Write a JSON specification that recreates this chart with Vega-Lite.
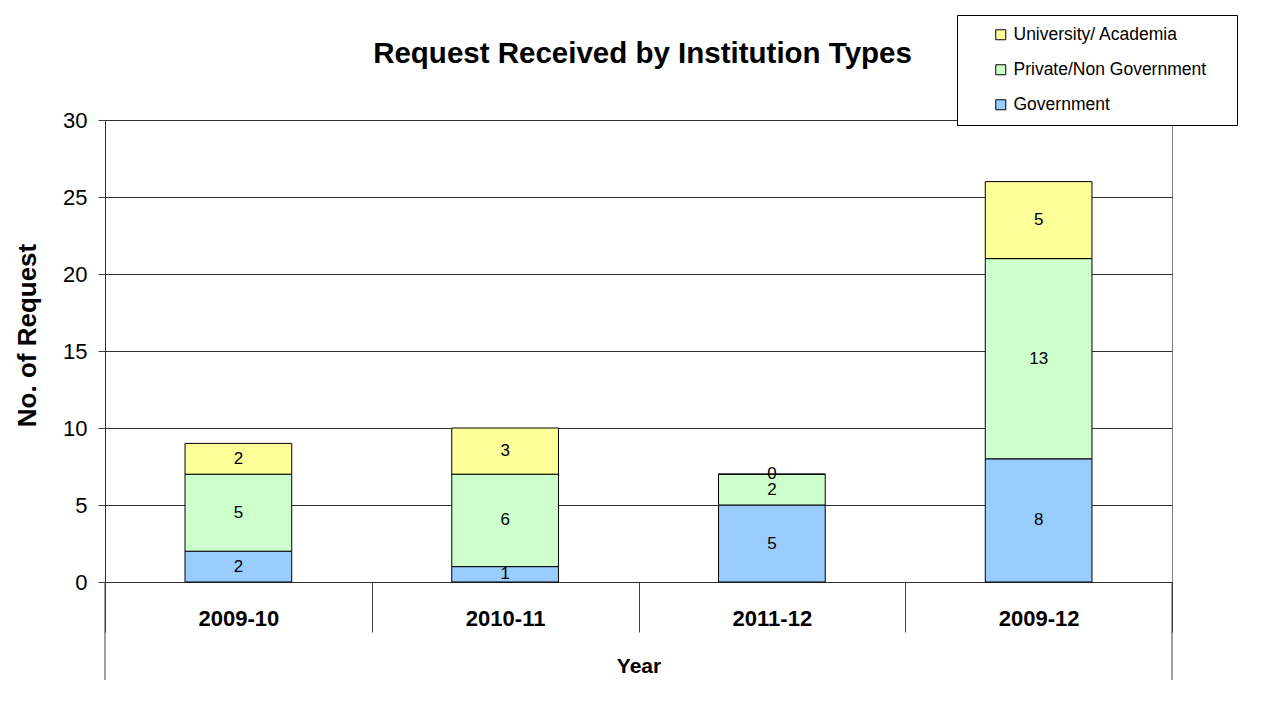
{
  "$schema": "https://vega.github.io/schema/vega-lite/v6.json",
  "autosize": {"type": "none"},
  "width": 1067,
  "height": 462,
  "padding": {"left": 105, "top": 120, "right": 101, "bottom": 131},
  "background": "white",
  "config": {
    "font": "Liberation Sans",
    "view": {"stroke": "#808080", "strokeWidth": 1}
  },
  "title": {
    "text": "Request Received by Institution Types",
    "fontSize": 29.5,
    "fontWeight": "bold",
    "color": "black",
    "anchor": "middle",
    "frame": "group",
    "offset": -55,
    "dx": 4
  },
  "data": {
    "values": [
      {"Year": "2009-10", "Category": "Government", "Rank": 1, "Requests": 2},
      {"Year": "2009-10", "Category": "Private/Non Government", "Rank": 2, "Requests": 5},
      {"Year": "2009-10", "Category": "University/ Academia", "Rank": 3, "Requests": 2},
      {"Year": "2010-11", "Category": "Government", "Rank": 1, "Requests": 1},
      {"Year": "2010-11", "Category": "Private/Non Government", "Rank": 2, "Requests": 6},
      {"Year": "2010-11", "Category": "University/ Academia", "Rank": 3, "Requests": 3},
      {"Year": "2011-12", "Category": "Government", "Rank": 1, "Requests": 5},
      {"Year": "2011-12", "Category": "Private/Non Government", "Rank": 2, "Requests": 2},
      {"Year": "2011-12", "Category": "University/ Academia", "Rank": 3, "Requests": 0},
      {"Year": "2009-12", "Category": "Government", "Rank": 1, "Requests": 8},
      {"Year": "2009-12", "Category": "Private/Non Government", "Rank": 2, "Requests": 13},
      {"Year": "2009-12", "Category": "University/ Academia", "Rank": 3, "Requests": 5}
    ]
  },
  "layer": [
    {
      "mark": {"type": "bar", "stroke": "black", "strokeWidth": 1, "width": {"band": 0.4}},
      "encoding": {
        "x": {
          "field": "Year",
          "type": "nominal",
          "scale": {
            "domain": ["2009-10", "2010-11", "2011-12", "2009-12"],
            "paddingInner": 0,
            "paddingOuter": 0
          },
          "axis": {
            "title": "Year",
            "titleFontSize": 21,
            "titleFontWeight": "bold",
            "titleColor": "black",
            "titlePadding": 23,
            "labelAngle": 0,
            "labelFontSize": 22,
            "labelFontWeight": "bold",
            "labelColor": "black",
            "labelPadding": -24,
            "tickBand": "extent",
            "tickSize": 50,
            "tickColor": "#404040",
            "domainColor": "#303030",
            "grid": false
          }
        },
        "y": {
          "field": "Requests",
          "type": "quantitative",
          "stack": "zero",
          "scale": {"domain": [0, 30], "nice": false},
          "axis": {
            "title": "No. of Request",
            "titleFontSize": 26,
            "titleFontWeight": "bold",
            "titleColor": "black",
            "titlePadding": 22,
            "titleY": 215,
            "values": [0, 5, 10, 15, 20, 25, 30],
            "labelFontSize": 22,
            "labelColor": "black",
            "labelPadding": 11,
            "tickSize": 7,
            "tickColor": "#404040",
            "domainColor": "#303030",
            "grid": true,
            "gridColor": "#303030",
            "gridWidth": 1
          }
        },
        "color": {
          "field": "Category",
          "type": "nominal",
          "scale": {
            "domain": ["University/ Academia", "Private/Non Government", "Government"],
            "range": ["#FFFF99", "#CCFFCC", "#99CCFF"]
          },
          "legend": {
            "title": " ",
            "titleOrient": "right",
            "titlePadding": 20,
            "orient": "none",
            "legendX": 852,
            "legendY": -105,
            "padding": 11,
            "fillColor": "white",
            "strokeColor": "black",
            "symbolType": "square",
            "symbolSize": 100,
            "symbolStrokeColor": "black",
            "symbolStrokeWidth": 1,
            "symbolOffset": 24,
            "labelOffset": 4,
            "labelFontSize": 17.5,
            "labelColor": "black",
            "labelLimit": 400,
            "rowPadding": 16
          }
        },
        "order": {"field": "Rank", "type": "quantitative"}
      }
    },
    {
      "transform": [
        {"stack": "Requests", "groupby": ["Year"], "sort": [{"field": "Rank", "order": "ascending"}], "as": ["lo", "hi"]},
        {"fold": ["lo", "hi"], "as": ["edge", "pos"]},
        {"aggregate": [{"op": "sum", "field": "pos", "as": "edgeSum"}], "groupby": ["Year", "Category", "Requests"]}
      ],
      "mark": {"type": "text", "fontSize": 17, "color": "black", "align": "center", "baseline": "middle"},
      "encoding": {
        "x": {"field": "Year", "type": "nominal"},
        "y": {
          "field": "edgeSum",
          "type": "quantitative",
          "scale": {"domain": [0, 60], "nice": false},
          "axis": null
        },
        "text": {"field": "Requests", "type": "quantitative"}
      }
    },
    {
      "data": {"values": [{"Year": "2009-10"}]},
      "mark": {"type": "rule", "color": "#404040", "strokeWidth": 1},
      "encoding": {
        "x": {"field": "Year", "type": "nominal", "bandPosition": 0},
        "y": {"datum": 0, "type": "quantitative", "scale": {"domain": [0, 30], "nice": false}, "axis": null},
        "y2": {"datum": -6.36}
      }
    },
    {
      "data": {"values": [{"Year": "2009-12"}]},
      "mark": {"type": "rule", "color": "#404040", "strokeWidth": 1},
      "encoding": {
        "x": {"field": "Year", "type": "nominal", "bandPosition": 1},
        "y": {"datum": 0, "type": "quantitative", "scale": {"domain": [0, 30], "nice": false}, "axis": null},
        "y2": {"datum": -6.36}
      }
    }
  ],
  "resolve": {"scale": {"y": "independent"}}
}
